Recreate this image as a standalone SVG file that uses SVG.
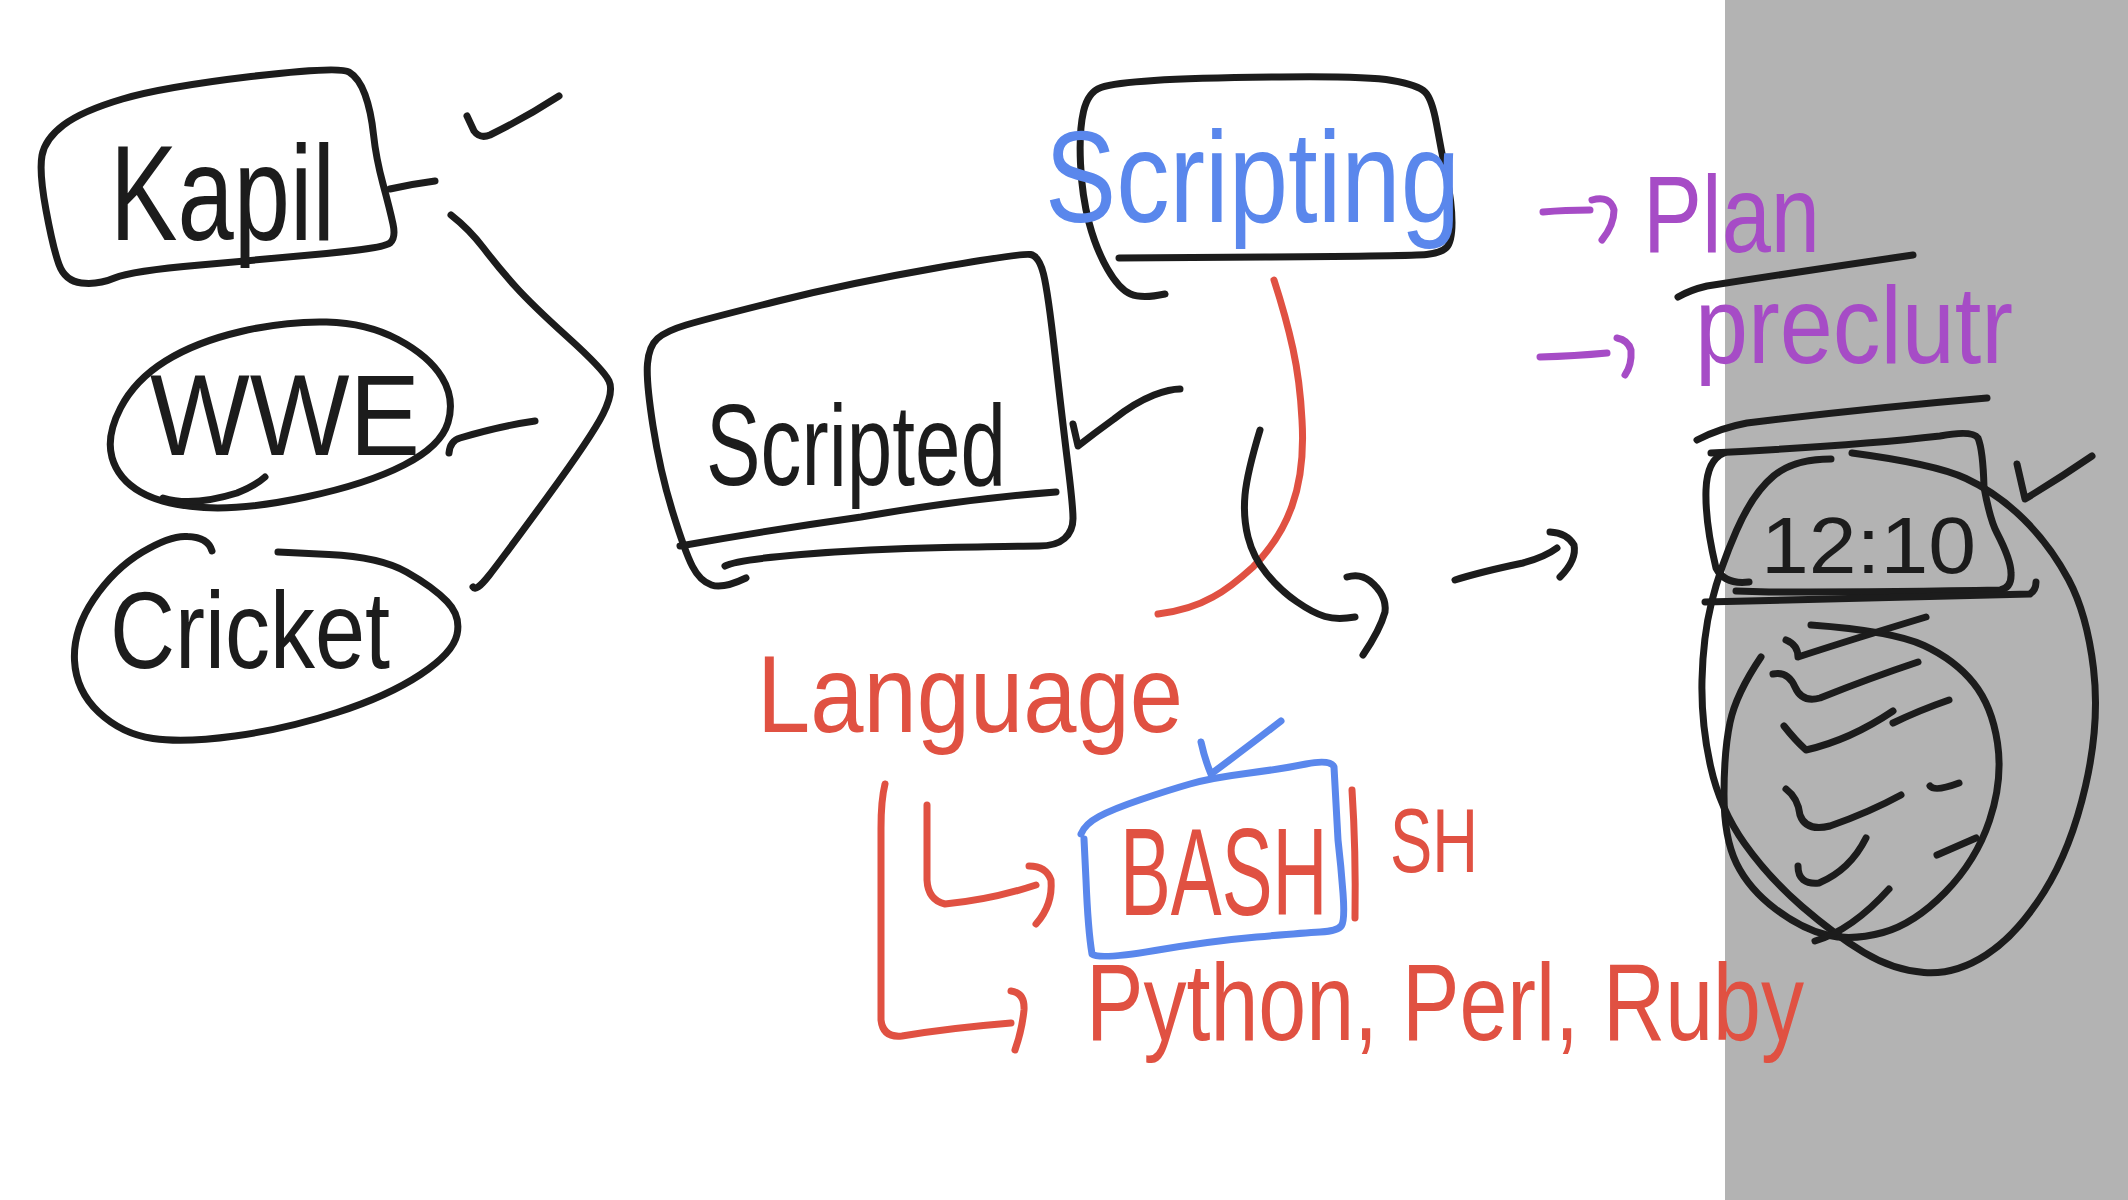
<svg xmlns="http://www.w3.org/2000/svg" width="2128" height="1200" viewBox="0 0 2128 1200">
<style>
.s{fill:none;stroke-linecap:round;stroke-linejoin:round;stroke-width:7}
.k{stroke:#1c1c1c}
.r{stroke:#e05142}
.b{stroke:#5a87ec}
.p{stroke:#a64cc6}
.t{font-family:"Liberation Sans","DejaVu Sans",sans-serif;font-weight:400}
.tk{fill:#1c1c1c}
.tr{fill:#e05142}
.tb{fill:#5a87ec}
.tp{fill:#a64cc6}
</style>
<rect x="0" y="0" width="2128" height="1200" fill="#ffffff"/>
<rect x="1725" y="0" width="403" height="1200" fill="#b3b3b3"/>

<g id="node-kapil">
<path class="s k" d="M 81.5,283 Q 65,281 59,264.5 Q 53,248 46,210 Q 39,172 42,155.5 Q 45,139 63.5,125 Q 82,111 122.5,99 Q 163,87 251,76.5 Q 339,66 349,72 Q 359,78 365,94.5 Q 371,111 373.5,134.5 Q 376,158 383,184 Q 390,210 393,224 Q 396,238 390,243 Q 384,248 326.5,253.5 Q 269,259 200,265 Q 131,271 114.5,278 Q 98,285 81.5,283 Z"/>
<text class="t tk" x="110" y="240" font-size="135" textLength="225" lengthAdjust="spacingAndGlyphs">Kapil</text>
</g>

<g id="node-wwe">
<path class="s k" d="M 326.5,322 Q 367,323 398,339.5 Q 429,356 442,377.5 Q 455,399 448,422.5 Q 441,446 404,465 Q 367,484 306,497 Q 245,510 204,507.5 Q 163,505 140.5,492 Q 118,479 112,457.5 Q 106,436 120.5,408 Q 135,380 165.5,361 Q 196,342 241,331.5 Q 286,321 326.5,322 Z"/>
<text class="t tk" x="150" y="455" font-size="115" textLength="270" lengthAdjust="spacingAndGlyphs">WWE</text>
<path class="s k" d="M 163,498 Q 192,507 237,493 Q 255,486 265,477"/>
</g>

<g id="node-cricket">
<path class="s k" d="M 212,551 Q 208,537 187.5,536.5 Q 171,535 142.5,552 Q 114,569 93.5,599.5 Q 73,630 74.5,660.5 Q 76,691 99,712.5 Q 122,734 153,738.5 Q 184,743 235,736 Q 286,729 337,712.5 Q 388,696 420.5,674.5 Q 453,653 457,634.5 Q 461,616 447,601.5 Q 433,587 406.5,572 Q 380,557 329,554.5 Q 300,553 278,552"/>
<text class="t tk" x="110" y="668" font-size="110" textLength="280" lengthAdjust="spacingAndGlyphs">Cricket</text>
</g>

<g id="node-scripted">
<path class="s k" d="M 746,578 Q 723,589 711.5,585 Q 700,581 692.5,566.5 Q 685,552 672.5,511.5 Q 660,471 653,426 Q 646,381 647.5,363.5 Q 649,346 657.5,338.5 Q 666,331 686,325 Q 706,319 778,301 Q 850,283 936,268 Q 1022,253 1030.5,254.5 Q 1039,256 1043.5,274 Q 1048,292 1055,354.5 Q 1062,417 1067.5,461.5 Q 1073,506 1073,518.5 Q 1073,531 1064.5,538.5 Q 1056,546 1039,546 Q 1022,546 944.5,547.5 Q 867,549 801,554.5 Q 735,560 725,566"/>
<path class="s k" d="M 680,546 Q 770,530 861,517 Q 964,499 1056,492"/>
<text class="t tk" x="706" y="485" font-size="115" textLength="300" lengthAdjust="spacingAndGlyphs">Scripted</text>
</g>

<g id="node-scripting">
<path class="s k" d="M 1165,294 Q 1142,299 1130.5,294 Q 1119,289 1107.5,269 Q 1096,249 1089,222.5 Q 1082,196 1080.5,163.5 Q 1079,131 1083.5,111.5 Q 1088,92 1101,87.5 Q 1114,83 1154,80.5 Q 1194,78 1280,77 Q 1366,76 1392,80.5 Q 1418,85 1425,92 Q 1432,99 1436.5,124 Q 1441,149 1446.5,176 Q 1452,203 1452,222.5 Q 1452,242 1446.5,247.5 Q 1441,253 1426.5,254.5 Q 1412,256 1265.5,257 L 1119,258"/>
<text class="t tb" x="1045" y="222" font-size="130" textLength="415" lengthAdjust="spacingAndGlyphs">Scripting</text>
</g>

<g id="node-language">
<text class="t tr" x="757" y="732" font-size="110" textLength="426" lengthAdjust="spacingAndGlyphs">Language</text>
</g>

<g id="node-bash">
<path class="s b" d="M 1081,834 Q 1085,824 1099,816.5 Q 1113,809 1141,799.5 Q 1169,790 1190,784 Q 1211,778 1246,773.5 Q 1281,769 1306,764 Q 1331,759 1334,767 L 1338,840 Q 1341,866 1343,893 Q 1345,920 1341.5,925.5 Q 1338,931 1320,932 Q 1302,933 1256.5,937 Q 1211,941 1155,950.5 Q 1099,960 1092,954 Q 1088,930 1086,880 L 1084,839"/>
<text class="t tr" x="0" y="0" font-size="125" transform="translate(1120,915) scale(0.61,1)">BASH</text>
</g>

<g id="node-sh">
<path class="s r" d="M 1352,790 Q 1356,850 1355,918"/>
<text class="t tr" x="1390" y="872" font-size="90" textLength="88" lengthAdjust="spacingAndGlyphs">SH</text>
</g>

<g id="node-languages">
<text class="t tr" x="1086" y="1040" font-size="110" textLength="718" lengthAdjust="spacingAndGlyphs">Python, Perl, Ruby</text>
</g>

<g id="node-plan">
<text class="t tp" x="1643" y="252" font-size="110" textLength="177" lengthAdjust="spacingAndGlyphs">Plan</text>
<path class="s k" d="M 1678,297 Q 1690,290 1707,286 Q 1810,270 1913,255"/>
</g>

<g id="node-preclutr">
<text class="t tp" x="1695" y="363" font-size="110" textLength="318" lengthAdjust="spacingAndGlyphs">preclutr</text>
<path class="s k" d="M 1697,440 Q 1720,428 1747,423 Q 1870,408 1987,398"/>
</g>

<g id="node-time">
<path class="s k" d="M 1711,453 Q 1852,446 1940,436 Q 1972,430 1978,438 Q 1983,450 1984,487 Q 1990,520 1997,533 Q 2011,560 2011,573 Q 2012,588 2000,590 Q 1900,592 1769,592 L 1736,591"/>
<path class="s k" d="M 1724,453 Q 1707,460 1706,490 Q 1705,522 1716,568 Q 1725,585 1749,582"/>
<path class="s k" d="M 1705,602 Q 1870,598 2030,594 Q 2036,590 2036,582"/>
<text class="t tk" x="1761" y="573" font-size="80" textLength="215" lengthAdjust="spacingAndGlyphs">12:10</text>
<path class="s k" d="M 1831,459 Q 1794,459 1773.5,476 Q 1753,493 1736.5,530.5 Q 1720,568 1711.5,602.5 Q 1703,637 1702,680 Q 1701,723 1710.5,766 Q 1720,809 1744.5,843.5 Q 1769,878 1802,906.5 Q 1835,935 1864,952.5 Q 1893,970 1924,972.5 Q 1955,975 1986,955 Q 2017,935 2044,892 Q 2071,849 2085.5,786 Q 2100,723 2093.5,668.5 Q 2087,614 2068.5,579.5 Q 2050,545 2023.5,519 Q 1997,493 1966,478.5 Q 1935,464 1852,453"/>
<path class="s k" d="M 1761,657 Q 1736,694 1730,722.5 Q 1724,751 1724,794.5 Q 1724,838 1736.5,863.5 Q 1749,889 1775.5,909 Q 1802,929 1827,935 Q 1852,941 1883,932.5 Q 1914,924 1945,892.5 Q 1976,861 1989.5,820.5 Q 2003,780 1997.5,743 Q 1992,706 1973.5,683 Q 1955,660 1924,645.5 Q 1893,631 1811,625"/>
<path class="s k" d="M 1786,640 Q 1798,645 1798,657 Q 1850,640 1926,617"/>
<path class="s k" d="M 1773,674 Q 1788,671 1795,687 Q 1802,703 1820,698 Q 1870,678 1918,662"/>
<path class="s k" d="M 1784,726 Q 1795,740 1806,750 Q 1850,740 1893,711"/>
<path class="s k" d="M 1893,723 Q 1920,710 1949,700"/>
<path class="s k" d="M 1786,789 Q 1798,798 1800,815 Q 1806,832 1830,826 Q 1870,812 1901,795"/>
<path class="s k" d="M 1930,786 Q 1935,792 1959,783"/>
<path class="s k" d="M 1798,866 Q 1798,885 1819,883 Q 1850,870 1866,838"/>
<path class="s k" d="M 1937,855 Q 1960,845 1976,838"/>
<path class="s k" d="M 1815,941 Q 1852,930 1889,889"/>
</g>

<g id="marks">
<path class="s k" d="M 467,116 L 474,131 Q 480,139 490,135 Q 525,118 559,96"/>
<path class="s b" d="M 1201,742 Q 1205,760 1211,774 Q 1250,745 1281,721"/>
<path class="s k" d="M 2017,464 L 2025,499 Q 2060,478 2092,456"/>
</g>

<g id="connectors">
<path class="s k" d="M 390,189 Q 412,184 435,181"/>
<path class="s k" d="M 449,453 Q 450,441 460,438 Q 500,426 535,421"/>
<path class="s k" d="M 451,215 Q 469,229 483.5,248 Q 498,267 514.5,285.5 Q 531,304 567.5,337 Q 604,370 609,381 Q 614,392 603,414 Q 592,436 547,497.5 Q 502,559 489,575.5 Q 476,592 473,587"/>
<path class="s k" d="M 1073,424 L 1078,446 Q 1096,432 1114,419 Q 1134,403 1154,395 Q 1170,389 1180,389"/>
<path class="s r" d="M 1274,280 Q 1286,317 1293,349 Q 1300,381 1302,420 Q 1305,470 1292,506 Q 1280,540 1253,567 Q 1230,588 1213,597 Q 1190,610 1158,614"/>
<path class="s k" d="M 1260,430 Q 1247,473 1245,495 Q 1243,517 1248,537 Q 1253,557 1266.5,573.5 Q 1280,590 1296.5,601.5 Q 1313,613 1325,616.5 Q 1337,620 1355,617"/>
<path class="s k" d="M 1347,577 Q 1360,573 1370,581 Q 1387,595 1385,612 Q 1380,630 1363,655"/>
<path class="s k" d="M 1455,580 Q 1480,572 1523,563 Q 1545,557 1557,548"/>
<path class="s k" d="M 1550,532 Q 1567,533 1574,545 Q 1577,560 1560,577"/>
<path class="s p" d="M 1543,212 Q 1565,210 1590,210"/>
<path class="s p" d="M 1592,200 Q 1610,195 1614,210 Q 1614,225 1602,240"/>
<path class="s p" d="M 1540,357 Q 1575,356 1607,353"/>
<path class="s p" d="M 1617,338 Q 1628,340 1631,350 Q 1632,365 1625,375"/>
<path class="s r" d="M 927,805 L 927,880 Q 928,900 945,904 Q 990,900 1036,885"/>
<path class="s r" d="M 1029,866 Q 1046,866 1051,880 Q 1053,905 1036,924"/>
<path class="s r" d="M 885,784 Q 881,800 881,828 L 881,1020 Q 883,1038 902,1036 Q 950,1028 1011,1023"/>
<path class="s r" d="M 1011,991 Q 1025,993 1024,1010 Q 1022,1030 1015,1050"/>
</g>
</svg>
